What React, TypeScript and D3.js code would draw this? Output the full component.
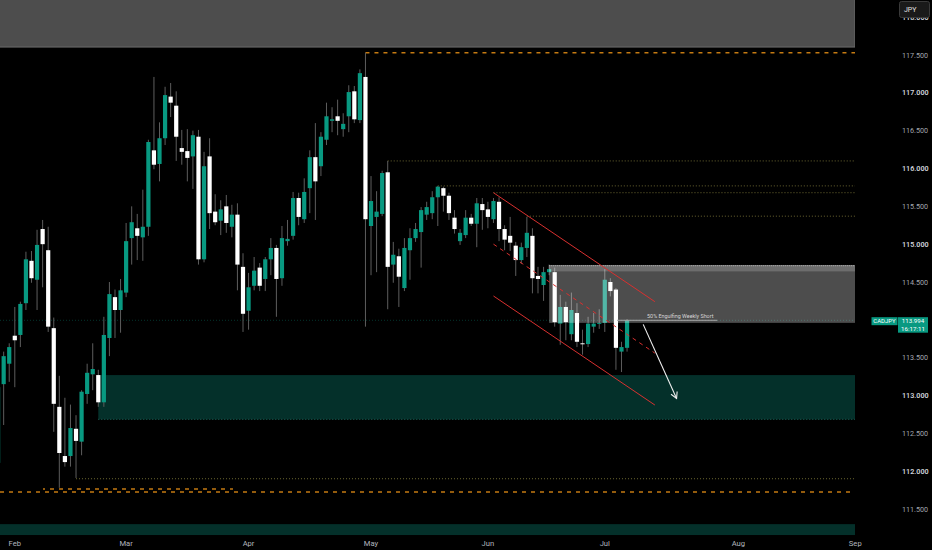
import React from 'react';
import * as d3 from 'd3';

// ---- DATA (CADJPY daily) ----
const opens = [112.11,113.15,113.42,113.79,113.80,114.22,114.78,114.53,115.20,114.92,
113.89,112.85,112.20,112.20,112.56,112.39,113.02,113.28,113.27,112.91,
113.76,114.30,114.13,114.36,115.08,115.21,115.09,115.23,116.24,116.06,
116.40,116.95,116.83,116.27,116.23,116.16,116.42,114.80,116.16,115.43,
115.31,115.50,115.23,115.39,114.70,114.12,114.45,114.69,114.54,114.80,
114.95,114.55,115.04,115.11,115.61,115.33,115.74,116.15,116.03,116.38,
116.63,116.69,116.52,116.69,117.02,116.64,117.21,115.24,115.36,115.40,
115.95,114.73,114.84,114.42,114.92,115.08,115.16,115.39,115.41,115.62,
115.74,115.64,115.35,115.04,115.12,115.35,115.27,115.53,115.46,115.33,
115.56,115.20,115.11,114.98,114.79,114.95,115.11,114.58,114.46,114.63,
114.63,113.95,114.17,113.81,114.09,113.69,113.68,113.91,113.95,113.96,
114.50,114.40,113.58,113.63];
const highs = [113.21,113.58,113.69,114.17,114.24,114.90,114.91,115.19,115.32,115.23,
114.03,113.26,112.97,112.88,112.74,113.07,113.42,113.69,113.34,114.04,
114.50,114.40,114.54,115.28,115.50,115.40,115.72,116.38,117.21,116.61,
117.08,117.13,117.02,116.51,116.52,116.50,116.51,116.22,116.40,115.66,
115.58,115.65,115.52,115.54,114.88,114.62,114.83,114.75,114.83,115.08,
114.99,115.24,115.32,115.69,115.68,115.87,116.24,116.60,116.48,116.87,
116.81,116.91,116.73,117.10,117.09,117.31,117.53,115.90,115.70,115.97,
116.10,115.03,114.94,115.08,115.21,115.28,115.49,115.56,115.70,115.77,
115.76,115.68,115.45,115.20,115.45,115.40,115.61,115.61,115.56,115.61,
115.62,115.25,115.36,115.03,115.02,115.36,115.21,114.70,114.70,114.73,
114.69,114.33,114.24,114.36,114.22,113.87,114.04,114.09,114.14,114.67,
114.55,114.42,113.71,114.01];
const lows = [112.04,112.61,113.18,113.11,113.64,114.13,114.49,114.13,114.43,113.84,
112.52,111.78,112.06,112.06,111.91,112.21,112.89,113.07,112.85,112.85,
113.52,113.76,113.83,114.30,114.73,114.79,114.78,115.11,115.99,115.83,
116.31,116.68,116.10,116.05,115.83,115.73,114.73,114.76,115.20,115.25,
115.12,115.15,115.09,114.39,113.84,113.87,114.39,114.38,114.38,114.59,
114.04,114.45,114.98,115.06,115.25,115.28,115.41,115.32,115.90,116.31,
116.48,116.44,116.42,116.48,116.60,116.60,113.91,114.59,114.63,115.37,
114.14,114.49,114.17,114.38,114.53,115.03,114.69,115.32,115.33,115.24,
115.43,115.32,115.14,114.99,115.08,115.24,114.96,115.19,115.21,115.28,
115.04,114.92,114.91,114.58,114.74,114.83,114.35,114.35,114.25,114.59,
113.91,113.67,113.73,113.73,113.64,113.54,113.64,113.83,113.88,113.84,
114.31,113.34,113.31,113.58];
const closes = [113.11,113.52,113.64,113.73,114.21,114.80,114.55,114.99,115.00,113.91,
112.89,112.24,112.12,112.57,112.40,113.05,113.30,113.35,112.91,113.80,
114.34,114.13,114.39,115.04,115.29,115.11,115.23,116.35,116.05,116.40,
116.97,116.87,116.42,116.22,116.14,116.44,114.80,116.03,115.41,115.29,
115.46,115.28,115.39,114.73,114.08,114.43,114.65,114.45,114.80,114.95,
114.54,115.08,115.07,115.61,115.36,115.69,116.15,115.83,116.42,116.69,
116.65,116.63,116.59,117.01,116.65,117.26,115.33,115.57,115.43,115.94,
114.70,114.86,114.57,114.95,115.08,115.20,115.45,115.49,115.62,115.76,
115.64,115.41,115.20,115.15,115.35,115.27,115.54,115.45,115.36,115.57,
115.20,115.06,115.02,114.79,114.96,115.15,114.55,114.54,114.63,114.67,
113.97,114.17,113.97,114.13,113.71,113.68,113.95,113.95,113.96,114.53,
114.38,113.63,113.64,113.994];

const monthLabels = ['Feb','Mar','Apr','May','Jun','Jul','Aug','Sep'];
const monthBars = [3,23,45,67,88,109,133,154];

// 114.000 is hidden behind the last-price badge in the reference
const priceTicks = [111.5,112,112.5,113,113.5,114.5,115,115.5,116,116.5,117,117.5,118];

const lastPrice = 113.994;
const symbol = 'CADJPY';
const countdown = '16:17:11';
const currency = 'JPY';

// drawings (bar index, price)
const olivelevelBars = [70,79,89,95,14];
const olivelevelPrices = [116.10,115.77,115.68,115.37,111.90];
const channelBars = [89,118];
const channelUpper = [115.68,114.24];
const channelMid = [115.00,113.56];
const channelLower = [114.315,112.874];
const arrowBars = [115.9,121.9];
const arrowPrices = [113.94,112.96];
const zoneNote = '50% Engulfing Weekly Short';

const GREEN = '#089981';

export default function App() {
  const right = 855;
  const x = d3.scaleLinear().domain([0, 154]).range([-1.9, 855.26]);
  const y = d3.scaleLinear().domain([111.5, 117.5]).range([509, 55]);
  const bw = 4.2;
  const font = "Roboto, 'Liberation Sans', Arial, sans-serif";

  const candles = opens.map((o, i) => ({ o, h: highs[i], l: lows[i], c: closes[i], i }));

  // arrow head
  const ax0 = x(arrowBars[0]), ay0 = y(arrowPrices[0]);
  const ax1 = x(arrowBars[1]), ay1 = y(arrowPrices[1]);
  const ang = Math.atan2(ay1 - ay0, ax1 - ax0);
  const hl = 7, sp = 0.5;
  const h1 = [ax1 - hl * Math.cos(ang - sp), ay1 - hl * Math.sin(ang - sp)];
  const h2 = [ax1 - hl * Math.cos(ang + sp), ay1 - hl * Math.sin(ang + sp)];
  const yl = y(lastPrice) + 0.7;

  return (
    <div style={{ position: 'absolute', left: 0, top: 0, width: 932, height: 550, background: '#000' }}>
      <svg width={932} height={550} style={{ display: 'block', background: '#000' }} fontFamily={font}>
        <defs>
          <clipPath id="plot"><rect x={0} y={0} width={right} height={537} /></clipPath>
        </defs>
        <g clipPath="url(#plot)">
          {/* top gray zone */}
          <rect x={-1} y={-2} width={right + 1} height={y(117.605) + 2} fill="#4d4d4d" stroke="#6a6a6a" strokeWidth={1} />
          {/* demand zone */}
          <rect x={x(18)} y={y(113.27)} width={right - x(18)} height={y(112.685) - y(113.27)} fill="#04302a" />
          <line x1={x(18)} x2={right} y1={y(112.685)} y2={y(112.685)} stroke="#1f6b5e" strokeDasharray="1 2" />
          {/* bottom strip */}
          <rect x={0} y={y(111.30)} width={right} height={y(111.156) - y(111.30)} fill="#04302a" />
          {/* olive dotted levels */}
          {olivelevelBars.map((b, k) => (
            <line key={'ol' + k} x1={x(b)} x2={right} y1={y(olivelevelPrices[k])} y2={y(olivelevelPrices[k])}
              stroke="#6b6630" strokeWidth={1} strokeDasharray="1 2" />
          ))}
          {/* orange dashed levels */}
          <line x1={x(66)} x2={right} y1={y(117.53)} y2={y(117.53)} stroke="#c47a12" strokeWidth={1.3} strokeDasharray="4 5" />
          <line x1={0} x2={right} y1={y(111.725)} y2={y(111.725)} stroke="#c47a12" strokeWidth={1.3} strokeDasharray="4 5" />
          <line x1={x(8.07)} x2={x(42.2)} y1={y(111.764)} y2={y(111.764)} stroke="#c47a12" strokeWidth={1.3} strokeDasharray="4 5" strokeDashoffset={2} />
          {/* last price line */}
          <line x1={0} x2={right} y1={y(lastPrice)} y2={y(lastPrice)} stroke={GREEN} strokeOpacity={0.35} strokeDasharray="1 2" />
          {/* candles */}
          {candles.map((d) => {
            const cx = x(d.i);
            const up = d.c >= d.o;
            const top = y(Math.max(d.o, d.c));
            const bot = y(Math.min(d.o, d.c));
            return (
              <g key={d.i}>
                <line x1={cx} x2={cx} y1={y(d.h)} y2={y(d.l)} stroke="#5d5d5d" strokeWidth={1} />
                <rect x={cx - bw / 2} y={top} width={bw} height={Math.max(1, bot - top)} fill={up ? GREEN : '#ffffff'} />
              </g>
            );
          })}
          {/* supply zone overlay */}
          <rect x={x(99)} y={y(114.725)} width={right - x(99)} height={y(113.96) - y(114.725)} fill="#ffffff" fillOpacity={0.3} />
          <rect x={x(99)} y={y(114.725)} width={right - x(99)} height={y(114.64) - y(114.725)} fill="#ffffff" fillOpacity={0.18} />
          <line x1={x(99)} x2={right} y1={y(114.715)} y2={y(114.715)} stroke="#b0b0b0" strokeDasharray="1 1" />
          {/* note line + text */}
          <line x1={x(111.2)} x2={x(129.2)} y1={y(lastPrice)} y2={y(lastPrice)} stroke="#a8a8a8" strokeWidth={1} />
          <text x={x(116.6)} y={y(lastPrice) - 2} fontSize={5.4} fill="#d6d6d6">{zoneNote}</text>
          {/* channel */}
          <line x1={x(channelBars[0])} x2={x(channelBars[1])} y1={y(channelUpper[0])} y2={y(channelUpper[1])} stroke="#d8302f" strokeWidth={1} />
          <line x1={x(channelBars[0])} x2={x(channelBars[1])} y1={y(channelLower[0])} y2={y(channelLower[1])} stroke="#d8302f" strokeWidth={1} />
          <line x1={x(channelBars[0])} x2={x(channelBars[1])} y1={y(channelMid[0])} y2={y(channelMid[1])} stroke="#d8302f" strokeWidth={1} strokeDasharray="4 4" />
          {/* arrow */}
          <line x1={ax0} y1={ay0} x2={ax1} y2={ay1} stroke="#f0f0f0" strokeWidth={1.1} />
          <polyline points={`${h1[0]},${h1[1]} ${ax1},${ay1} ${h2[0]},${h2[1]}`} fill="none" stroke="#f0f0f0" strokeWidth={1.1} />
        </g>

        {/* price axis */}
        {priceTicks.map((p) => (
          <text key={p} x={902} y={y(p) + 2.6} fontSize={7.2}
            fill={Number.isInteger(p) ? '#d1d4dc' : '#a3a6af'} fontWeight={Number.isInteger(p) ? 600 : 400}>
            {p.toFixed(3)}
          </text>
        ))}
        {/* currency badge */}
        <rect x={899.5} y={1.5} width={30} height={16} rx={2} fill="#1a1a1a" stroke="#3a3a3a" />
        <text x={904} y={12} fontSize={7} fill="#e0e0e0">{currency}</text>

        {/* last price badges */}
        <rect x={871.5} y={yl - 3.8} width={26} height={8} fill={GREEN} />
        <text x={884.5} y={yl + 2.2} fontSize={6} fill="#ffffff" textAnchor="middle">{symbol}</text>
        <rect x={898} y={yl - 3.8} width={30} height={15.5} fill={GREEN} />
        <text x={913} y={yl + 2.2} fontSize={6.2} fill="#ffffff" textAnchor="middle">{lastPrice.toFixed(3)}</text>
        <text x={913} y={yl + 9.8} fontSize={6.2} fill="#ffffff" textAnchor="middle">{countdown}</text>

        {/* month axis */}
        {monthLabels.map((m, k) => (
          <text key={m} x={x(monthBars[k])} y={546} fontSize={7.6} fill="#b2b5be" textAnchor="middle">{m}</text>
        ))}
      </svg>
    </div>
  );
}
